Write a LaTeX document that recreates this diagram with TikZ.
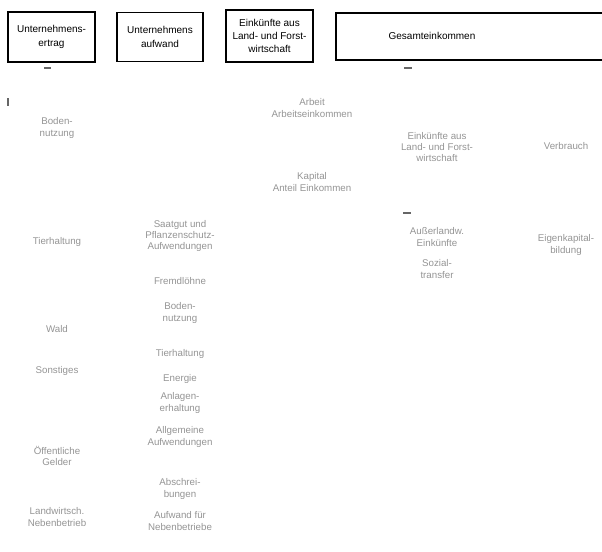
\documentclass[tikz,border=0pt]{standalone}
\usepackage{fontspec}
\setmainfont{Liberation Sans}
\usepackage{xcolor}
\usepackage{tikz}

\begin{document}
\begin{tikzpicture}[x=0.75pt, y=-0.75pt,
    kopf/.style={draw, line width=1.1pt, align=center, inner sep=0pt,
      font=\fontsize{7.5}{10}\selectfont},
    posten/.style={align=center, text=black!42, inner sep=1pt,
      font=\fontsize{7.3}{8.4}\selectfont},
    marke/.style={line width=0.8pt, black!60}]
    \useasboundingbox (0,0) rectangle (602,551);
    % Kopfzeile
    \node[kopf, minimum width=65.25pt, minimum height=37.5pt] (ertrag) at (51.5,37) {Unternehmens-\\ertrag};
    \node[kopf, minimum width=64.5pt, minimum height=36.75pt] (aufwand) at (160,37) {Unternehmens\\aufwand};
    \node[kopf, minimum width=65.25pt, minimum height=39pt] (einkuenfte) at (269.5,36) {Einkünfte aus\\Land- und Forst-\\wirtschaft};
    \draw[line width=1.1pt] (612,13) -- (336,13) -- (336,60) -- (612,60);
    \draw[line width=1.8pt] (336,13) -- (336,60);
    \node[font=\fontsize{7.5}{10}\selectfont] (gesamt) at (432,36) {Gesamteinkommen};
    % Reste der Linien
    \draw[marke] (44,68) -- (51,68);
    \draw[marke] (404,68) -- (412,68);
    \draw[marke] (8,98) -- (8,106);
    \draw[marke] (403,213) -- (411,213);
    % Ertrag
    \foreach \n/\y/\txt in {eboden/128/{Boden-\\nutzung}, etier/242/Tierhaltung, ewald/329/Wald,
        esonst/371/Sonstiges, egeld/456/{Öffentliche\\Gelder}, eneben/517/{Landwirtsch.\\Nebenbetrieb}}
      \node[posten] (\n) at (57,\y) {\txt};
    % Aufwand
    \foreach \n/\y/\txt in {asaat/236/{Saatgut und\\Pflanzenschutz-\\Aufwendungen}, alohn/281/Fremdlöhne,
        aboden/313/{Boden-\\nutzung}, atier/354/Tierhaltung, aenergie/379/Energie,
        aanlagen/403/{Anlagen-\\erhaltung}, aallg/437/{Allgemeine\\Aufwendungen},
        aabschr/489/{Abschrei-\\bungen}, aneben/521/{Aufwand für\\Nebenbetriebe}}
      \node[posten] (\n) at (180,\y) {\txt};
    % Einkuenfte
    \node[posten] (arbeit) at (312,108) {Arbeit\\Arbeitseinkommen};
    \node[posten] (kapital) at (312,182) {Kapital\\Anteil Einkommen};
    % Gesamteinkommen
    \node[posten] (lufo) at (437,147) {Einkünfte aus\\Land- und Forst-\\wirtschaft};
    \node[posten] (ausser) at (437,237) {Außerlandw.\\Einkünfte};
    \node[posten] (sozial) at (437,269) {Sozial-\\transfer};
    \node[posten] (verbrauch) at (566,146) {Verbrauch};
    \node[posten] (bildung) at (566,245) {Eigenkapital-\\bildung};
\end{tikzpicture}
\end{document}
